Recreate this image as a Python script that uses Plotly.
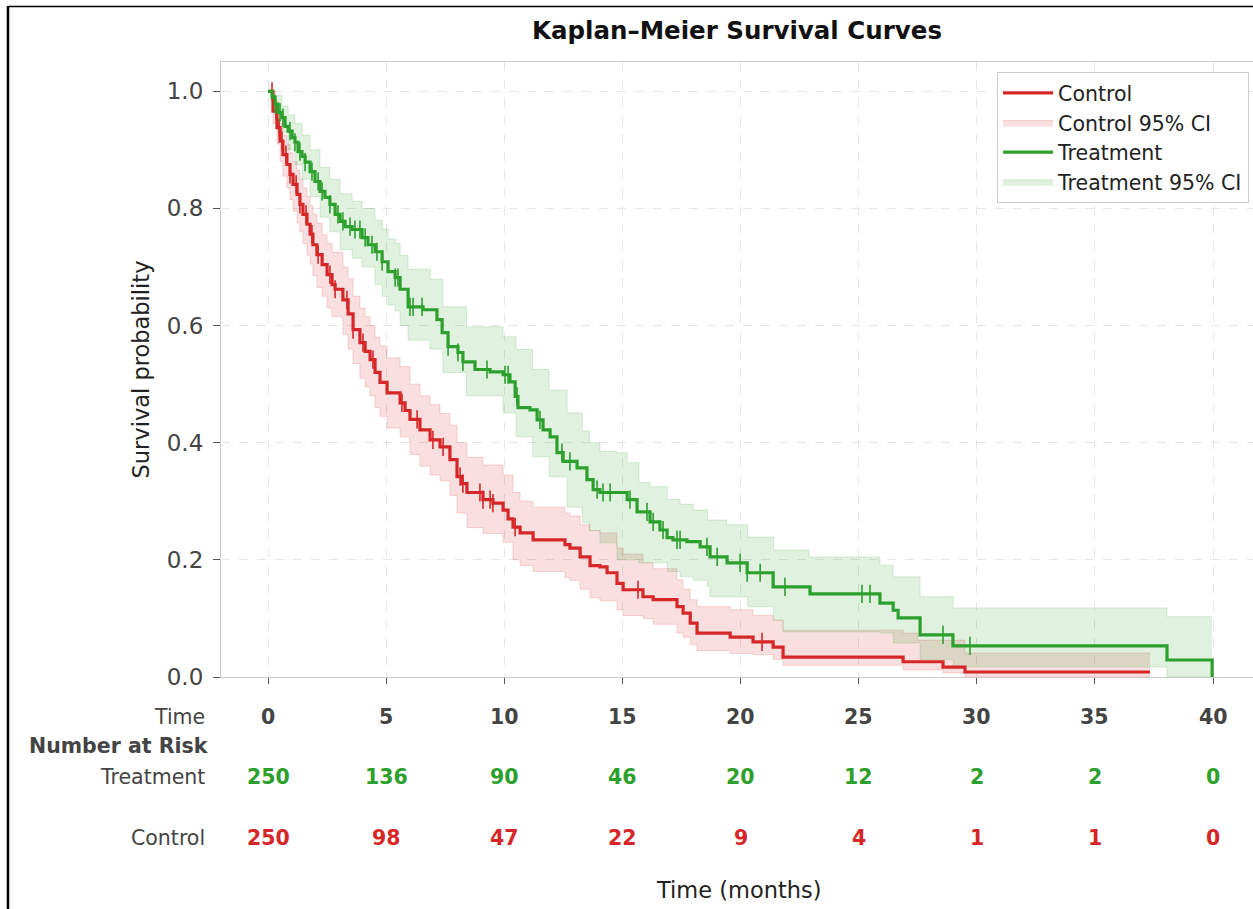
import plotly.graph_objects as go

# ---------------- data ----------------
# Control: Kaplan-Meier step times (months) and survival after each step
ctrl_t = [0, 0.21, 0.38, 0.51, 0.63, 0.80, 0.93, 1.06, 1.23, 1.35, 1.48, 1.65, 1.78, 1.90, 2.07,
          2.29, 2.50, 2.71, 2.84, 3.17, 3.39, 3.60, 3.89, 4.11, 4.32, 4.53, 4.74, 5.04, 5.59,
          5.80, 6.01, 6.43, 6.86, 7.28, 7.70, 8.00, 8.21, 8.42, 9.10, 9.52, 9.95, 10.16, 10.37,
          10.67, 11.22, 12.57, 12.78, 13.21, 13.63, 14.05, 14.35, 14.77, 15.03, 15.87, 16.30,
          17.31, 17.57, 17.87, 18.16, 19.56, 20.53, 21.38, 21.80, 26.88, 28.57, 29.50, 37.33]
ctrl_s = [1.0, 0.966, 0.938, 0.915, 0.892, 0.875, 0.858, 0.841, 0.824, 0.807, 0.790, 0.773, 0.756,
          0.738, 0.721, 0.704, 0.687, 0.670, 0.662, 0.644, 0.620, 0.593, 0.571, 0.556, 0.542,
          0.520, 0.503, 0.485, 0.468, 0.455, 0.440, 0.422, 0.405, 0.393, 0.371, 0.342, 0.330,
          0.315, 0.303, 0.297, 0.285, 0.270, 0.256, 0.246, 0.234, 0.226, 0.220, 0.205, 0.190,
          0.188, 0.178, 0.160, 0.149, 0.137, 0.132, 0.120, 0.109, 0.092, 0.075, 0.068, 0.060,
          0.051, 0.034, 0.026, 0.017, 0.0085, 0.0085]

# Control 95% confidence band
ctrl_ci_t = [0, 0.21, 0.38, 0.51, 0.63, 0.80, 0.93, 1.06, 1.23, 1.35, 1.48, 1.65, 1.78, 1.90, 2.07,
             2.29, 2.50, 2.71, 3.17, 3.39, 3.60, 3.89, 4.11, 4.32, 4.53, 4.74, 5.04, 5.59, 6.01,
             6.43, 6.86, 7.28, 7.70, 8.00, 8.42, 9.10, 9.95, 10.37, 10.67, 11.22, 12.57, 12.78,
             13.21, 13.63, 14.05, 14.77, 15.03, 15.87, 16.30, 17.31, 17.57, 17.87, 18.16, 19.56,
             20.53, 21.38, 21.80, 26.88, 27.50, 28.57, 29.50, 37.33]
ctrl_lo = [1.0, 0.945, 0.910, 0.880, 0.855, 0.835, 0.815, 0.795, 0.775, 0.760, 0.740, 0.720, 0.705,
           0.685, 0.665, 0.650, 0.630, 0.615, 0.585, 0.560, 0.535, 0.510, 0.495, 0.480, 0.460,
           0.445, 0.425, 0.410, 0.380, 0.360, 0.345, 0.335, 0.310, 0.280, 0.255, 0.245, 0.230,
           0.200, 0.190, 0.180, 0.170, 0.165, 0.150, 0.135, 0.130, 0.115, 0.105, 0.100, 0.090,
           0.075, 0.068, 0.055, 0.045, 0.040, 0.038, 0.030, 0.020, 0.012, 0.012, 0.007, 0.0, 0.0]
ctrl_hi = [1.0, 0.985, 0.965, 0.945, 0.925, 0.910, 0.895, 0.880, 0.865, 0.850, 0.835, 0.820, 0.805,
           0.790, 0.775, 0.755, 0.740, 0.725, 0.700, 0.680, 0.650, 0.630, 0.615, 0.600, 0.580,
           0.565, 0.545, 0.530, 0.500, 0.480, 0.465, 0.450, 0.430, 0.400, 0.375, 0.362, 0.345,
           0.315, 0.300, 0.290, 0.280, 0.275, 0.260, 0.250, 0.246, 0.220, 0.210, 0.195, 0.185,
           0.166, 0.150, 0.132, 0.120, 0.115, 0.105, 0.097, 0.080, 0.075, 0.063, 0.063, 0.041,
           0.041]

# Treatment: Kaplan-Meier step times and survival
trt_t = [0, 0.17, 0.30, 0.42, 0.59, 0.72, 0.85, 1.02, 1.14, 1.27, 1.44, 1.57, 1.78, 1.99, 2.20,
         2.41, 2.62, 2.84, 3.05, 3.26, 3.56, 3.98, 4.23, 4.53, 4.83, 5.08, 5.38, 5.59, 5.93, 6.56,
         7.15, 7.37, 7.62, 8.04, 8.25, 8.76, 9.40, 9.95, 10.24, 10.46, 10.58, 11.09, 11.39, 11.64,
         11.94, 12.23, 12.49, 13.08, 13.50, 13.76, 14.05, 15.20, 15.62, 16.17, 16.59, 16.89,
         17.14, 17.73, 18.29, 18.71, 19.43, 20.28, 21.38, 22.94, 25.90, 26.46, 26.67, 27.60,
         28.99, 38.05, 39.96]
trt_s = [1.0, 0.990, 0.978, 0.964, 0.955, 0.940, 0.932, 0.921, 0.913, 0.897, 0.889, 0.879, 0.863,
         0.846, 0.829, 0.819, 0.807, 0.790, 0.778, 0.769, 0.764, 0.750, 0.738, 0.726, 0.709,
         0.692, 0.682, 0.662, 0.632, 0.627, 0.610, 0.588, 0.564, 0.554, 0.538, 0.525, 0.521,
         0.516, 0.504, 0.479, 0.460, 0.456, 0.439, 0.422, 0.410, 0.383, 0.368, 0.357, 0.337,
         0.320, 0.315, 0.303, 0.282, 0.265, 0.251, 0.238, 0.234, 0.231, 0.222, 0.205, 0.195,
         0.178, 0.154, 0.142, 0.126, 0.114, 0.101, 0.072, 0.053, 0.029, 0.0]

# Treatment 95% confidence band
trt_ci_t = [0, 0.30, 0.59, 0.85, 1.14, 1.44, 1.78, 2.20, 2.62, 3.05, 3.56, 3.98, 4.53, 4.83, 5.08,
            5.38, 5.59, 5.93, 6.86, 7.40, 8.40, 9.95, 10.50, 11.20, 11.90, 12.66, 13.30, 13.60,
            14.05, 14.77, 15.20, 15.70, 16.17, 16.90, 17.44, 18.00, 18.60, 18.71, 19.40, 20.30,
            21.40, 21.80, 22.90, 25.90, 26.46, 27.60, 29.00, 38.05, 39.96]
trt_lo = [1.0, 0.960, 0.930, 0.900, 0.875, 0.850, 0.820, 0.785, 0.760, 0.730, 0.715, 0.700, 0.670,
          0.650, 0.635, 0.625, 0.600, 0.575, 0.560, 0.520, 0.480, 0.451, 0.410, 0.376, 0.342,
          0.290, 0.263, 0.250, 0.229, 0.200, 0.200, 0.195, 0.195, 0.180, 0.171, 0.165, 0.155,
          0.137, 0.137, 0.120, 0.097, 0.077, 0.077, 0.075, 0.058, 0.030, 0.017, 0.0, 0.0]
trt_hi = [1.0, 0.993, 0.975, 0.960, 0.945, 0.925, 0.900, 0.870, 0.850, 0.825, 0.812, 0.800, 0.780,
          0.765, 0.748, 0.740, 0.720, 0.696, 0.679, 0.632, 0.598, 0.581, 0.559, 0.525, 0.490,
          0.451, 0.420, 0.400, 0.385, 0.383, 0.366, 0.332, 0.325, 0.303, 0.295, 0.285, 0.268,
          0.268, 0.260, 0.239, 0.217, 0.217, 0.205, 0.191, 0.171, 0.137, 0.118, 0.103, 0.103]

# Censoring times
ctrl_cens = [0.17, 0.34, 0.47, 0.59, 0.76, 0.93, 1.19, 1.35, 1.61, 1.86, 2.12, 2.62, 2.84, 3.34,
             3.60, 4.02, 4.44, 5.67, 6.31, 6.98, 7.41, 8.13, 8.25, 8.97, 9.10, 9.40, 9.52, 10.46,
             15.66, 20.91]
trt_cens = [0.30, 0.51, 0.63, 0.93, 1.14, 1.35, 1.57, 1.86, 2.12, 2.29, 2.62, 2.96, 3.17, 3.47,
            3.68, 3.89, 4.11, 4.40, 4.61, 4.83, 5.38, 5.50, 6.01, 6.14, 6.52, 7.62, 8.04, 8.25,
            9.27, 10.03, 10.16, 10.54, 11.51, 12.44, 12.78, 13.93, 14.18, 14.48, 15.32, 16.04,
            16.30, 16.72, 17.31, 17.44, 18.58, 19.01, 19.98, 20.28, 20.83, 21.88, 25.14, 25.48,
            28.57, 29.71]

# Number at risk table
risk_times = [0, 5, 10, 15, 20, 25, 30, 35, 40]
risk_treatment = [250, 136, 90, 46, 20, 12, 2, 2, 0]
risk_control = [250, 98, 47, 22, 9, 4, 1, 1, 0]

RED = "#d62728"
GREEN = "#2ca02c"
FONT = "DejaVu Sans"


def step_at(ts, ss, t):
    val = ss[0]
    for ti, si in zip(ts, ss):
        if ti <= t:
            val = si
        else:
            break
    return val


fig = go.Figure()

# confidence bands
for ci_t, lo, hi, col, fillc, name, rank in [
    (ctrl_ci_t, ctrl_lo, ctrl_hi, "rgba(214,39,40,0.22)", "rgba(214,39,40,0.15)", "Control 95% CI", 2),
    (trt_ci_t, trt_lo, trt_hi, "rgba(44,160,44,0.22)", "rgba(44,160,44,0.15)", "Treatment 95% CI", 4),
]:
    fig.add_trace(go.Scatter(x=ci_t, y=lo, mode="lines", line=dict(shape="hv", width=0.8, color=col),
                             showlegend=False, hoverinfo="skip"))
    fig.add_trace(go.Scatter(x=ci_t, y=hi, mode="lines", line=dict(shape="hv", width=0.8, color=col),
                             fill="tonexty", fillcolor=fillc, name=name, legendrank=rank))

# survival curves + censor marks
for ts, ss, cens, col, name, rank in [
    (ctrl_t, ctrl_s, ctrl_cens, RED, "Control", 1),
    (trt_t, trt_s, trt_cens, GREEN, "Treatment", 3),
]:
    fig.add_trace(go.Scatter(x=ts, y=ss, mode="lines", line=dict(shape="hv", width=3.2, color=col),
                             name=name, legendrank=rank))
    fig.add_trace(go.Scatter(x=cens, y=[step_at(ts, ss, c) for c in cens], mode="markers",
                             marker=dict(symbol="line-ns", size=13, line=dict(width=1.6, color=col)),
                             showlegend=False, hoverinfo="skip"))

# risk table annotations (paper y of each row centre)
ann = []
ROW_TIME, ROW_HDR, ROW_TRT, ROW_CTRL = -0.065, -0.112, -0.1626, -0.2618
NUM_SIZE = 20.5
for t, nt, nc in zip(risk_times, risk_treatment, risk_control):
    ann.append(dict(x=t, y=ROW_TIME, xref="x", yref="paper", text=f"<b>{t}</b>", showarrow=False,
                    xanchor="center", yanchor="middle",
                    font=dict(family=FONT, size=NUM_SIZE, color="#444444")))
    ann.append(dict(x=t, y=ROW_TRT, xref="x", yref="paper", text=f"<b>{nt}</b>", showarrow=False,
                    xanchor="center", yanchor="middle",
                    font=dict(family=FONT, size=NUM_SIZE, color=GREEN)))
    ann.append(dict(x=t, y=ROW_CTRL, xref="x", yref="paper", text=f"<b>{nc}</b>", showarrow=False,
                    xanchor="center", yanchor="middle",
                    font=dict(family=FONT, size=NUM_SIZE, color=RED)))
for txt, yy, xx in [("Time", ROW_TIME, -0.0135), ("<b>Number at Risk</b>", ROW_HDR, -0.0097),
                    ("Treatment", ROW_TRT, -0.0135), ("Control", ROW_CTRL, -0.0135)]:
    ann.append(dict(x=xx, y=yy, xref="paper", yref="paper", text=txt, showarrow=False,
                    xanchor="right", yanchor="middle",
                    font=dict(family=FONT, size=NUM_SIZE, color="#444444")))
ann.append(dict(x=0.502, y=-0.3463, xref="paper", yref="paper", text="Time (months)", showarrow=False,
                xanchor="center", yanchor="middle",
                font=dict(family=FONT, size=22.5, color="#222222")))

# outer frame lines of the screenshot
shapes = [
    dict(type="line", xref="paper", yref="paper", x0=-0.2064, x1=-0.2064, y0=1.0911, y1=-0.40,
         line=dict(color="black", width=2.5)),
    dict(type="line", xref="paper", yref="paper", x0=-0.2064, x1=1.05, y0=1.0903, y1=1.0903,
         line=dict(color="black", width=1.5)),
]

fig.update_layout(
    width=1253, height=909,
    margin=dict(l=221, r=0, t=62, b=232),
    paper_bgcolor="white", plot_bgcolor="white",
    font=dict(family=FONT, size=20, color="#444444"),
    title=dict(text="<b>Kaplan–Meier Survival Curves</b>", x=0.5, xref="paper", y=1 - 30 / 909,
               yref="container", xanchor="center", yanchor="middle",
               font=dict(family=FONT, size=24.5, color="#111111")),
    legend=dict(x=0.996, y=0.984, xanchor="right", yanchor="top", bgcolor="white", traceorder="normal",
                itemwidth=50,
                bordercolor="#cccccc", borderwidth=1.2, font=dict(family=FONT, size=20.5, color="#222222")),
    annotations=ann, shapes=shapes,
)
fig.update_xaxes(range=[-1.99, 41.69], tickvals=risk_times, showticklabels=False, ticks="outside",
                 ticklen=6, tickcolor="#555555", showgrid=True, gridcolor="#e6e6e6", griddash="dash",
                 gridwidth=1, showline=True, linecolor="#cccccc", linewidth=1.2, mirror=True, zeroline=False)
fig.update_yaxes(range=[0, 1.05], tickvals=[0, 0.2, 0.4, 0.6, 0.8, 1.0], tickformat=".1f", ticks="outside",
                 ticklen=7, tickcolor="#555555", ticklabelstandoff=5,
                 tickfont=dict(family=FONT, size=23, color="#444444"),
                 showgrid=True, gridcolor="#e6e6e6", griddash="dash", gridwidth=1, showline=True,
                 linecolor="#cccccc", linewidth=1.2, mirror=True, zeroline=False,
                 title=dict(text="Survival probability", font=dict(family=FONT, size=22.5, color="#222222"),
                            standoff=10))

fig.write_html("out.html", config={"displayModeBar": False},
               post_script="document.body.style.margin='0';")
